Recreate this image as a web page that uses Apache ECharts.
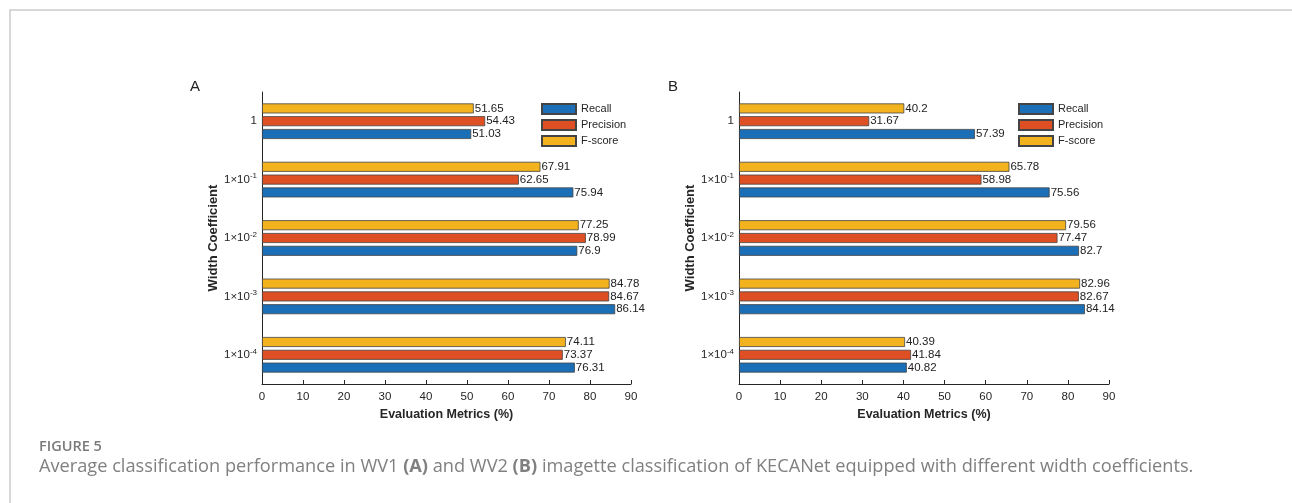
<!DOCTYPE html>
<html>
<head>
<meta charset="utf-8">
<script src="https://cdn.jsdelivr.net/npm/echarts@6/dist/echarts.min.js"></script>
<style>
html,body{margin:0;padding:0;background:#fff;}
#chart{width:1292px;height:503px;}
</style>
</head>
<body>
<div id="chart"></div>
<script>
// ---- data ----
const categories = ['1', '1×10^-1', '1×10^-2', '1×10^-3', '1×10^-4'];
const seriesNames = ['Recall', 'Precision', 'F-score'];
const xTicks = [0, 10, 20, 30, 40, 50, 60, 70, 80, 90];

const recallA    = [51.03, 75.94, 76.9, 86.14, 76.31];
const precisionA = [54.43, 62.65, 78.99, 84.67, 73.37];
const fscoreA    = [51.65, 67.91, 77.25, 84.78, 74.11];

const recallB    = [57.39, 75.56, 82.7, 84.14, 40.82];
const precisionB = [31.67, 58.98, 77.47, 82.67, 41.84];
const fscoreB    = [40.2, 65.78, 79.56, 82.96, 40.39];

const panelLabels = ['A', 'B'];
const xTitle = 'Evaluation Metrics (%)';
const yTitle = 'Width Coefficient';
const figLabel = 'FIGURE 5';
const caption = 'Average classification performance in WV1 {b|(A)} and WV2 {b|(B)} imagette classification of KECANet equipped with different width coefficients.';

// ---- styles ----
const FONT = '"Liberation Sans", Arial, sans-serif';
const CAPFONT = '"Open Sans", sans-serif';
const colors = {Recall: '#1a6fb7', Precision: '#df4f24', 'F-score': '#f3b31e'};
const axisColor = '#262626';

const chart = echarts.init(document.getElementById('chart'), null, {renderer: 'canvas'});

const grids = [
  {left: 262, top: 92, width: 369, height: 292},
  {left: 739, top: 92, width: 370, height: 292}
];

function yLabelFmt(v) {
  const p = v.split('^');
  return p.length > 1 ? '{n|' + p[0] + '}{sup|' + p[1] + '}' : '{n|' + v + '}';
}

const xAxes = grids.map((g, i) => ({
  type: 'value', gridIndex: i, min: xTicks[0], max: xTicks[xTicks.length - 1],
  interval: xTicks[1] - xTicks[0],
  name: xTitle, nameLocation: 'middle', nameGap: 24,
  nameTextStyle: {fontFamily: FONT, fontSize: 12.5, fontWeight: 'bold', color: axisColor},
  axisLine: {show: true, lineStyle: {color: axisColor, width: 1}},
  axisTick: {show: true, inside: true, length: 4, lineStyle: {color: axisColor}},
  axisLabel: {fontFamily: FONT, fontSize: 11.5, color: axisColor, margin: 7},
  splitLine: {show: false}
}));

const yAxes = grids.map((g, i) => ({
  type: 'category', gridIndex: i, data: categories, inverse: true,
  name: yTitle, nameLocation: 'middle', nameGap: 42, nameRotate: 90,
  nameTextStyle: {fontFamily: FONT, fontSize: 13, fontWeight: 'bold', color: axisColor},
  axisLine: {show: true, lineStyle: {color: axisColor, width: 1}},
  axisTick: {show: true, inside: true, alignWithLabel: true, length: 3, lineStyle: {color: axisColor}},
  axisLabel: {
    margin: 5, formatter: yLabelFmt,
    rich: {
      n: {fontFamily: FONT, fontSize: 11.5, color: axisColor},
      sup: {fontFamily: FONT, fontSize: 8, color: axisColor, verticalAlign: 'top', padding: [0, 0, 7, 0]}
    }
  }
}));

function mkSeries(name, data, gi) {
  return {
    name: name, type: 'bar', xAxisIndex: gi, yAxisIndex: gi, data: data,
    barWidth: 10, barGap: '28%',
    itemStyle: {color: colors[name], borderColor: '#444', borderWidth: 0.8},
    label: {show: true, position: 'right', distance: 1, fontFamily: FONT, fontSize: 11.5, color: '#222'},
    emphasis: {disabled: true},
    animation: false
  };
}

const series = [
  mkSeries('F-score', fscoreA, 0), mkSeries('Precision', precisionA, 0), mkSeries('Recall', recallA, 0),
  mkSeries('F-score', fscoreB, 1), mkSeries('Precision', precisionB, 1), mkSeries('Recall', recallB, 1)
];

const legendBase = {
  data: seriesNames, orient: 'vertical', itemWidth: 34, itemHeight: 10, itemGap: 4,
  icon: 'rect', textStyle: {fontFamily: FONT, fontSize: 11, color: axisColor, lineHeight: 10},
  selectedMode: false, padding: 0
};

const option = {
  backgroundColor: '#fff',
  animation: false,
  grid: grids,
  xAxis: xAxes,
  yAxis: yAxes,
  legend: [
    Object.assign({}, legendBase, {left: 541, top: 103}),
    Object.assign({}, legendBase, {left: 1018, top: 103})
  ],
  series: series,
  graphic: [
    {type: 'rect', shape: {x: 10, y: 10, width: 1400, height: 600}, style: {fill: 'none', stroke: '#cccccc', lineWidth: 1.5}, silent: true},
    {type: 'text', left: 190, top: 79, style: {text: panelLabels[0], font: '15px ' + FONT, fill: '#222'}},
    {type: 'text', left: 668, top: 79, style: {text: panelLabels[1], font: '15px ' + FONT, fill: '#222'}},
    {type: 'text', left: 39, top: 439, style: {text: figLabel, font: '600 14.5px ' + CAPFONT, fill: '#7a7a7a'}},
    {type: 'text', left: 39, top: 458, style: {
      text: caption, font: '18.2px ' + CAPFONT, fill: '#808080',
      rich: {b: {fontFamily: CAPFONT, fontSize: 18.2, fontWeight: 'bold', fill: '#808080'}}
    }}
  ]
};

chart.setOption(option);
</script>
</body>
</html>
